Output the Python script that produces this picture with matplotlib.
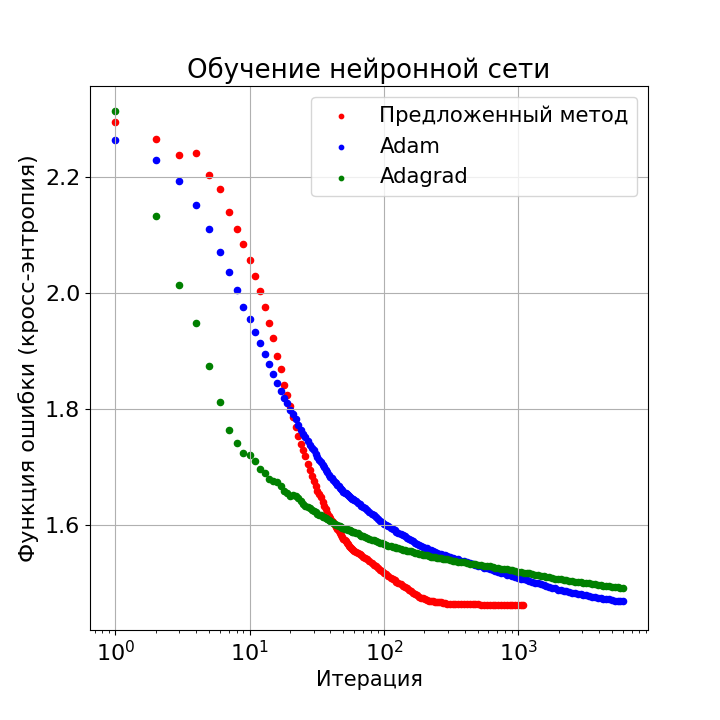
import matplotlib
matplotlib.use('Agg')
import matplotlib.pyplot as plt

iters_common = list(range(1, 61)) + [
    62, 64, 66, 68, 70, 72, 75, 78, 81, 84,
    87, 90, 93, 96, 100, 104, 108, 112, 116, 120,
    124, 128, 133, 138, 143, 148, 153, 158, 164, 170,
    176, 182, 188, 195, 202, 209, 216, 224, 232, 240,
    248, 257, 266, 275, 285, 295,
    310, 325, 341, 358, 376, 395, 415, 436, 458, 481,
    505, 530, 557, 585, 614, 645, 677, 711, 747, 784,
    823, 864, 907, 952, 1000, 1050]
iters_proposed = iters_common + [1090]
iters_long = iters_common + [
    1100, 1155, 1213, 1274, 1337, 1404, 1474, 1548, 1625, 1707,
    1792, 1882, 1976, 2075, 2178, 2287, 2402, 2522, 2648, 2780,
    2919, 3065, 3218, 3379, 3548, 3725, 3912, 4107, 4313, 4528,
    4755, 4992, 5242, 5504, 5779, 6000]

# proposed method
loss_proposed = [
    2.295, 2.266, 2.239, 2.241, 2.203, 2.179, 2.140, 2.111, 2.085, 2.057,
    2.029, 2.003, 1.977, 1.949, 1.923, 1.892, 1.869, 1.841, 1.824, 1.806,
    1.787, 1.770, 1.754, 1.740, 1.730, 1.720, 1.706, 1.695, 1.685, 1.676,
    1.667, 1.659, 1.654, 1.648, 1.640, 1.634, 1.628, 1.621, 1.616, 1.612,
    1.608, 1.605, 1.601, 1.597, 1.594, 1.590, 1.587, 1.583, 1.580, 1.577,
    1.574, 1.572, 1.569, 1.567, 1.565, 1.563, 1.561, 1.559, 1.558, 1.556,
    1.554, 1.552, 1.550, 1.548, 1.546, 1.544, 1.541, 1.538, 1.535, 1.532,
    1.529, 1.526, 1.523, 1.521, 1.518, 1.516, 1.512, 1.509, 1.507, 1.505,
    1.503, 1.501, 1.498, 1.496, 1.493, 1.491, 1.489, 1.486, 1.483, 1.481,
    1.479, 1.477, 1.475, 1.474, 1.472, 1.471, 1.470, 1.470, 1.469, 1.468,
    1.468, 1.467, 1.467, 1.466, 1.466, 1.465,
    1.465, 1.465, 1.465, 1.465, 1.464, 1.464, 1.464, 1.464, 1.464, 1.464,
    1.464, 1.463, 1.463, 1.463, 1.463, 1.463, 1.463, 1.463, 1.463, 1.463,
    1.463, 1.462, 1.462, 1.462, 1.462, 1.462,
    1.462]

# Adam
loss_adam = [
    2.264, 2.229, 2.193, 2.152, 2.111, 2.071, 2.036, 2.005, 1.977, 1.955,
    1.933, 1.914, 1.896, 1.878, 1.861, 1.845, 1.832, 1.820, 1.810, 1.799,
    1.791, 1.783, 1.773, 1.765, 1.758, 1.752, 1.746, 1.739, 1.734, 1.729,
    1.723, 1.718, 1.713, 1.709, 1.704, 1.700, 1.696, 1.691, 1.687, 1.684,
    1.681, 1.678, 1.675, 1.672, 1.669, 1.667, 1.664, 1.662, 1.660, 1.658,
    1.656, 1.655, 1.654, 1.652, 1.650, 1.649, 1.647, 1.646, 1.645, 1.643,
    1.641, 1.639, 1.636, 1.633, 1.631, 1.629, 1.626, 1.623, 1.620, 1.617,
    1.614, 1.611, 1.608, 1.606, 1.603, 1.600, 1.598, 1.595, 1.593, 1.591,
    1.589, 1.587, 1.585, 1.583, 1.581, 1.578, 1.576, 1.574, 1.572, 1.570,
    1.568, 1.566, 1.565, 1.563, 1.561, 1.560, 1.558, 1.557, 1.555, 1.554,
    1.553, 1.551, 1.550, 1.549, 1.548, 1.547,
    1.545, 1.544, 1.542, 1.541, 1.539, 1.538, 1.536, 1.535, 1.533, 1.532,
    1.530, 1.529, 1.527, 1.526, 1.524, 1.523, 1.521, 1.520, 1.518, 1.517,
    1.515, 1.514, 1.512, 1.511, 1.509, 1.508,
    1.507, 1.505, 1.504, 1.503, 1.501, 1.500, 1.498, 1.497, 1.495, 1.494,
    1.492, 1.491, 1.489, 1.488, 1.487, 1.486, 1.485, 1.484, 1.483, 1.482,
    1.481, 1.480, 1.479, 1.478, 1.477, 1.476, 1.475, 1.474, 1.473, 1.472,
    1.472, 1.471, 1.470, 1.470, 1.469, 1.469]

# Adagrad
loss_adagrad = [
    2.314, 2.133, 2.015, 1.948, 1.874, 1.812, 1.765, 1.742, 1.725, 1.721,
    1.711, 1.697, 1.690, 1.680, 1.676, 1.674, 1.667, 1.659, 1.655, 1.650,
    1.652, 1.650, 1.647, 1.641, 1.637, 1.634, 1.631, 1.629, 1.627, 1.624,
    1.622, 1.620, 1.618, 1.617, 1.615, 1.614, 1.612, 1.611, 1.609, 1.607,
    1.606, 1.604, 1.603, 1.601, 1.600, 1.599, 1.598, 1.597, 1.596, 1.595,
    1.594, 1.593, 1.593, 1.592, 1.591, 1.591, 1.590, 1.589, 1.589, 1.588,
    1.587, 1.586, 1.584, 1.582, 1.581, 1.580, 1.578, 1.577, 1.575, 1.574,
    1.572, 1.571, 1.570, 1.569, 1.568, 1.566, 1.565, 1.564, 1.563, 1.562,
    1.561, 1.560, 1.559, 1.558, 1.557, 1.556, 1.555, 1.555, 1.554, 1.553,
    1.552, 1.551, 1.550, 1.549, 1.548, 1.548, 1.547, 1.546, 1.545, 1.545,
    1.544, 1.543, 1.543, 1.542, 1.541, 1.541,
    1.540, 1.539, 1.538, 1.537, 1.537, 1.536, 1.535, 1.534, 1.533, 1.533,
    1.532, 1.531, 1.530, 1.530, 1.529, 1.528, 1.527, 1.526, 1.525, 1.524,
    1.524, 1.523, 1.522, 1.521, 1.520, 1.519,
    1.518, 1.518, 1.517, 1.516, 1.515, 1.514, 1.513, 1.512, 1.511, 1.510,
    1.509, 1.508, 1.507, 1.507, 1.506, 1.505, 1.504, 1.504, 1.503, 1.502,
    1.502, 1.501, 1.500, 1.500, 1.499, 1.498, 1.497, 1.497, 1.496, 1.495,
    1.495, 1.494, 1.494, 1.493, 1.492, 1.492]

plt.rcParams['font.size'] = 15

fig = plt.figure(figsize=(7.2, 7.2), dpi=100)
ax = fig.add_axes([0.125, 0.125, 0.775, 0.755])

ax.scatter(iters_proposed, loss_proposed, s=20, color='red', label='Предложенный метод')
ax.scatter(iters_long, loss_adam, s=20, color='blue', label='Adam')
ax.scatter(iters_long, loss_adagrad, s=20, color='green', label='Adagrad')

ax.set_xscale('log')
ax.set_title('Обучение нейронной сети', fontsize=18.8)
ax.set_xlabel('Итерация', fontsize=15)
ax.set_ylabel('Функция ошибки (кросс-энтропия)', fontsize=16)
ax.tick_params(labelsize=16)
ax.grid(True)
ax.legend(loc='upper right', markerscale=0.7, fontsize=15.3)

fig.savefig('out.png')
